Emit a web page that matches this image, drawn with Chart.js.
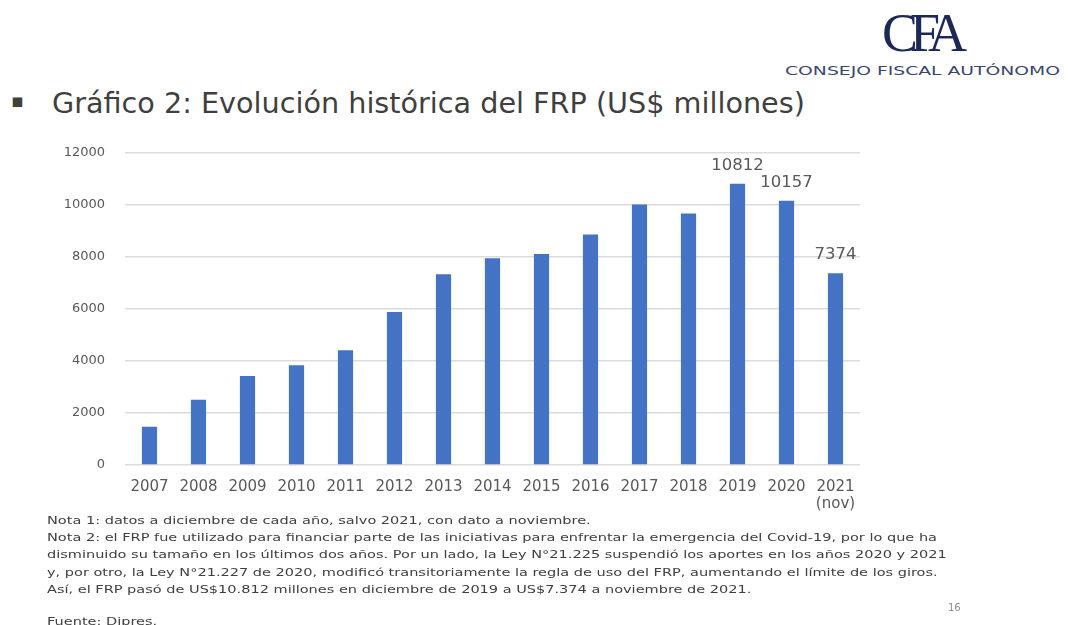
<!DOCTYPE html>
<html>
<head>
<meta charset="utf-8">
<script src="https://cdn.jsdelivr.net/npm/chart.js@4.4.0/dist/chart.umd.min.js"></script>
<style>
  html, body { margin:0; padding:0; background:#fff; }
  body { width:1068px; height:625px; position:relative; overflow:hidden; font-family:"DejaVu Sans", sans-serif; }
  .abs { position:absolute; white-space:nowrap; }
  #bullet { left:11px; top:89px; font-size:19px; color:#3f3f3f; }
  #title { left:52px; top:86px; font-size:24px; color:#3f3f3f; }
  #logo { left:882px; top:2px; font-family:"Liberation Serif", serif; font-size:54px; color:#1c2858; letter-spacing:-8px; }
  #logosub { left:785px; top:63px; font-size:12.5px; color:#3b4572; transform-origin:0 0; }
  #notes { left:47px; top:512px; font-size:11px; color:#404040; line-height:17.2px; transform-origin:0 0; }
  #page { left:948px; top:602px; font-size:10px; color:#8a8a8a; }
  #wrap { position:absolute; left:60px; top:125px; width:820px; height:400px; }
</style>
</head>
<body>
<div id="logo" class="abs">CFA</div>
<div id="logosub" class="abs">CONSEJO FISCAL AUTÓNOMO</div>
<div id="bullet" class="abs">▪</div>
<div id="title" class="abs">Gráfico 2: Evolución histórica del FRP (US$ millones)</div>
<div id="wrap"><canvas id="c" width="820" height="400"></canvas></div>
<div id="notes" class="abs"><span id="n1">Nota 1: datos a diciembre de cada año, salvo 2021, con dato a noviembre.</span><br><span id="n2">Nota 2: el FRP fue utilizado para financiar parte de las iniciativas para enfrentar la emergencia del Covid-19, por lo que ha</span><br>disminuido su tamaño en los últimos dos años. Por un lado, la Ley N°21.225 suspendió los aportes en los años 2020 y 2021<br>y, por otro, la Ley N°21.227 de 2020, modificó transitoriamente la regla de uso del FRP, aumentando el límite de los giros.<br>Así, el FRP pasó de US$10.812 millones en diciembre de 2019 a US$7.374 a noviembre de 2021.<br><div style="height:15px"></div>Fuente: Dipres.</div>
<div id="page" class="abs">16</div>
<script>
const categories = ['2007','2008','2009','2010','2011','2012','2013','2014','2015','2016','2017','2018','2019','2020',['2021','(nov)']];
const frpValues = [1466, 2507, 3421, 3837, 4406, 5883, 7335, 7944, 8112, 8862, 10011, 9663, 10812, 10157, 7374];
const labelledIndexes = [12, 13, 14];
const yTicks = [0, 2000, 4000, 6000, 8000, 10000, 12000];

// fit text blocks to the widths seen in the reference
(function(){
  const el = document.getElementById('title');
  const fs = parseFloat(getComputedStyle(el).fontSize);
  const w = el.getBoundingClientRect().width;
  el.style.fontSize = (fs * 753 / w) + 'px';
})();
(function(){
  const n2 = document.getElementById('n2');
  const w = n2.getBoundingClientRect().width;
  document.getElementById('notes').style.transform = 'scaleX(' + (890 / w) + ')';
})();
(function(){
  const el = document.getElementById('logosub');
  const w = el.getBoundingClientRect().width;
  el.style.transform = 'scaleX(' + (275 / w) + ')';
})();

const labelPlugin = {
  id: 'valueLabels',
  afterDatasetsDraw(chart) {
    const ctx = chart.ctx;
    const meta = chart.getDatasetMeta(0);
    ctx.save();
    ctx.font = '16.5px "DejaVu Sans", sans-serif';
    ctx.fillStyle = '#595959';
    ctx.textAlign = 'center';
    ctx.textBaseline = 'bottom';
    labelledIndexes.forEach(i => {
      const el = meta.data[i];
      ctx.fillText(String(frpValues[i]), el.x, el.y - 10);
    });
    ctx.restore();
  }
};

new Chart(document.getElementById('c'), {
  type: 'bar',
  data: {
    labels: categories,
    datasets: [{
      data: frpValues,
      backgroundColor: '#4472c4',
      borderWidth: 0,
      categoryPercentage: 1,
      barPercentage: 0.31
    }]
  },
  options: {
    responsive: false,
    animation: false,
    layout: { padding: { top: 20, right: 20, left: 0, bottom: 0 } },
    plugins: { legend: { display: false }, tooltip: { enabled: false } },
    scales: {
      x: {
        grid: { display: false, drawTicks: false },
        border: { display: false },
        ticks: { color: '#595959', font: { size: 15, family: '"DejaVu Sans"', lineHeight: 1.1 }, padding: 14, maxRotation: 0, autoSkip: false },
        afterFit(s) { s.height = 60; }
      },
      y: {
        min: 0, max: 12000,
        afterBuildTicks(s) { s.ticks = yTicks.map(v => ({ value: v })); },
        grid: { color: '#dcdcdc', lineWidth: 1.5, drawTicks: false },
        border: { display: false },
        ticks: { color: '#595959', font: { size: 13, family: '"DejaVu Sans"' }, padding: 20, callback: v => String(v) },
        afterFit(s) { s.width = 65; }
      }
    }
  },
  plugins: [labelPlugin]
});
</script>
</body>
</html>
